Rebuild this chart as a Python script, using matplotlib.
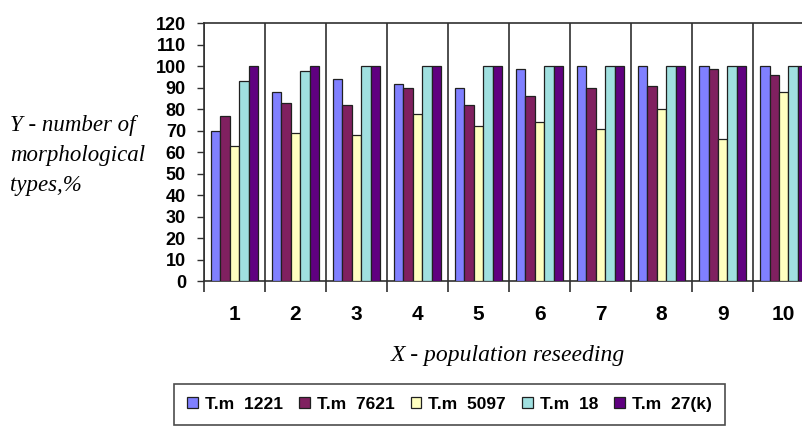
import matplotlib
matplotlib.use("Agg")
import matplotlib.pyplot as plt
import numpy as np

# population reseeding 1..10
categories = ["1", "2", "3", "4", "5", "6", "7", "8", "9", "10"]
series_names = ["T.m  1221", "T.m  7621", "T.m  5097", "T.m  18", "T.m  27(k)"]

tm_1221 = [70, 88, 94, 92, 90, 99, 100, 100, 100, 100]
tm_7621 = [77, 83, 82, 90, 82, 86, 90, 91, 99, 96]
tm_5097 = [63, 69, 68, 78, 72, 74, 71, 80, 66, 88]
tm_18 = [93, 98, 100, 100, 100, 100, 100, 100, 100, 100]
tm_27k = [100, 100, 100, 100, 100, 100, 100, 100, 100, 100]

colors = ["#8080ff", "#802060", "#ffffc0", "#a0e0e0", "#600080"]


def main():
    fig = plt.figure(figsize=(8.03, 4.34), dpi=100)
    ax = fig.add_axes([0.254, 0.3525, 0.76, 0.5935])

    series = [tm_1221, tm_7621, tm_5097, tm_18, tm_27k]
    x = np.arange(len(categories))
    w = 0.155
    for i, (vals, name) in enumerate(zip(series, series_names)):
        ax.bar(x + (i - 2) * w, vals, w, color=colors[i], edgecolor="#202020",
               linewidth=0.9, label=name, zorder=3)

    ax.set_xlim(-0.5, len(categories) - 0.5)
    ax.set_ylim(0, 120)
    ax.set_yticks(range(0, 121, 10))
    ax.set_xticks(x)
    ax.set_xticklabels(categories, fontsize=15, fontweight="bold",
                       family="Liberation Sans")
    ax.tick_params(axis="x", length=0, pad=17)
    ax.set_xticks(np.arange(-0.5, len(categories), 1.0), minor=True)
    ax.tick_params(axis="x", which="minor", length=8, width=1.2, color="#303030")
    ax.tick_params(axis="y", length=5, width=1, labelsize=13, pad=8, color="#303030")
    for lbl in ax.get_yticklabels():
        lbl.set_fontweight("bold")
        lbl.set_family("Liberation Sans")
    ax.grid(axis="x", which="minor", color="#303030", linewidth=1.2, zorder=1)
    for s in ax.spines.values():
        s.set_color("#303030")
        s.set_linewidth(1.2)

    fig.text(0.013, 0.735, "Y - number of\nmorphological\ntypes,%", fontsize=16.5,
             style="italic", family="Liberation Serif", va="top", ha="left",
             linespacing=1.55)
    fig.text(0.632, 0.182, "X - population reseeding", fontsize=17,
             style="italic", family="Liberation Serif", ha="center", va="center")

    leg = fig.legend(loc="center", bbox_to_anchor=(0.5598, 0.069), ncol=5,
                     frameon=True, fancybox=False, edgecolor="#202020",
                     prop={"family": "Liberation Sans", "weight": "bold", "size": 12.5},
                     handlelength=0.6, handleheight=0.6, handletextpad=0.4,
                     columnspacing=0.95, borderpad=0.75)
    leg.get_frame().set_linewidth(1.2)

    fig.savefig("out.png", dpi=100)


if __name__ == "__main__":
    main()
